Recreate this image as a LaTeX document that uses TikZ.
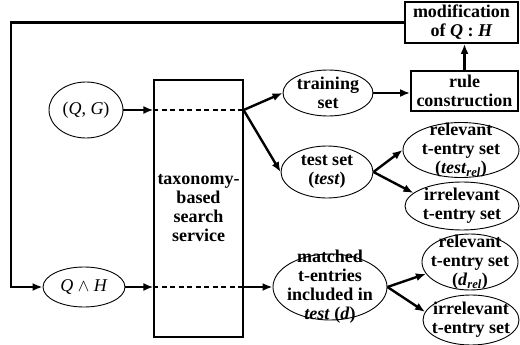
\documentclass[tikz,border=0pt]{standalone}
\usepackage{fontspec}
\setmainfont{Liberation Serif}
\usetikzlibrary{shapes.geometric,arrows.meta,calc}

\begin{document}
\begin{tikzpicture}[x=1pt, y=-1pt,
    font=\fontsize{18}{19}\selectfont\bfseries,
    oval/.style={ellipse, draw, line width=0.9pt, inner sep=0pt},
    txt/.style={align=center, inner sep=0pt},
    box/.style={rectangle, draw, line width=1.8pt, inner sep=0pt, align=center},
    flow/.style={line width=2.4pt, -{Latex[length=10pt,width=8pt]}},
    dashline/.style={line width=2.4pt, dash pattern=on 5pt off 3.5pt}]
    \useasboundingbox (0,0) rectangle (520,345);
    % inputs
    \node[oval, minimum width=74pt, minimum height=56pt] (qg) at (86,110) {};
    \node[txt, font=\fontsize{18}{19}\selectfont] (qg-t) at (qg) {(\textit{Q}, \textit{G})};
    \node[oval, minimum width=82pt, minimum height=40pt] (qh) at (84,287) {};
    \node[txt, font=\fontsize{18}{19}\selectfont] (qh-t) at (qh) {\textit{Q} $\wedge$ \textit{H}};
    % search service
    \node[box, line width=1.2pt, minimum width=89pt, minimum height=257pt] (tax) at (198.5,208.5)
        {taxonomy-\\based\\search\\service};
    % rule boxes
    \node[box, minimum width=113pt, minimum height=41pt] (mod) at (461.5,22.5)
        {modification\\of \textit{Q} : \textit{H}};
    \node[box, minimum width=107pt, minimum height=40pt] (rule) at (464.5,91)
        {rule\\construction};
    % sets
    \node[oval, minimum width=90pt, minimum height=46pt] (train) at (328,93) {};
    \node[txt] (train-t) at (train) {training\\set};
    \node[oval, minimum width=92pt, minimum height=52pt] (testset) at (327,172) {};
    \node[txt] (testset-t) at (testset) {test set\\(\textit{test})};
    \node[oval, minimum width=116pt, minimum height=55pt] (rel1) at (461,150) {};
    \node[txt] (rel1-t) at (rel1) {relevant\\t-entry set\\(\textit{test}\textsubscript{\textit{rel}})};
    \node[oval, minimum width=114pt, minimum height=48pt] (irr1) at (462,206) {};
    \node[txt] (irr1-t) at (irr1) {irrelevant\\t-entry set};
    \node[oval, minimum width=114pt, minimum height=66pt] (match) at (330,287) {};
    \node[txt] (match-t) at (match) {matched\\t-entries\\included in\\\textit{test} (\textit{d})};
    \node[oval, minimum width=96pt, minimum height=56pt] (rel2) at (470,262) {};
    \node[txt] (rel2-t) at (rel2) {relevant\\t-entry set\\(\textit{d}\textsubscript{\textit{rel}})};
    \node[oval, minimum width=96pt, minimum height=50pt] (irr2) at (471,320) {};
    \node[txt] (irr2-t) at (irr2) {irrelevant\\t-entry set};
    % connectors
    \coordinate (in1) at (tax.west |- qg);
    \coordinate (out1) at (tax.east |- qg);
    \coordinate (in2) at (tax.west |- qh);
    \coordinate (out2) at (tax.east |- qh);
    \coordinate (fb) at (11,287);
    \draw[flow] (qg.east) -- (in1);
    \draw[dashline] (in1) -- (out1);
    \draw[flow] (out1) -- (train.west);
    \draw[flow] (out1) -- (testset.west);
    \draw[flow] (train.east) -- (rule.west |- train.east);
    \draw[flow] (rule.north) -- (rule.north |- mod.south);
    \draw[flow] (mod.west) -| (fb) -- (qh.west);
    \draw[flow] (qh.east) -- (in2);
    \draw[dashline] (in2) -- (out2);
    \draw[flow] (out2) -- (match.west);
    \draw[flow] (testset.east) -- (rel1.west);
    \draw[flow] (testset.east) -- (irr1.165);
    \draw[flow] (match.east) -- (rel2.195);
    \draw[flow] (match.east) -- (irr2.170);
\end{tikzpicture}
\end{document}
